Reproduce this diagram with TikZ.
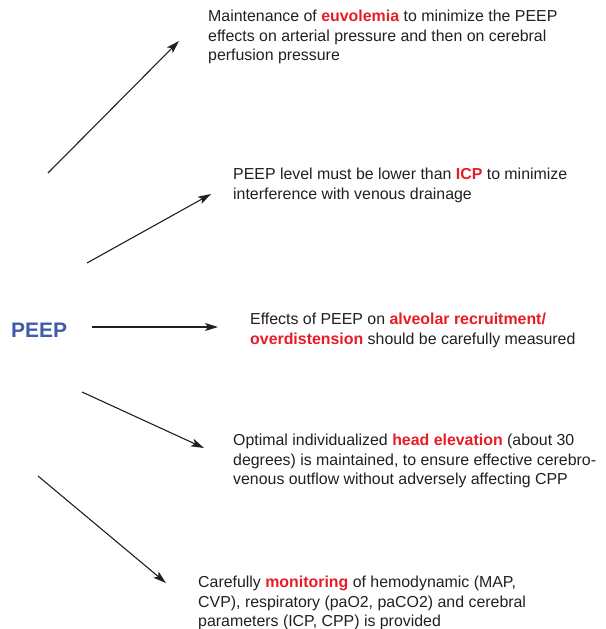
\documentclass[tikz,border=0pt]{standalone}
\usepackage{fontspec}
\setmainfont{Liberation Sans}
\usetikzlibrary{arrows.meta}
\definecolor{txt}{RGB}{35,31,32}
\definecolor{hl}{RGB}{232,28,36}
\definecolor{peepblue}{RGB}{66,90,170}
\newcommand{\hot}[1]{\textcolor{hl}{\textbf{#1}}}
\tikzset{
  note/.style={anchor=north west, align=left, inner sep=0pt, text=txt,
    font=\fontsize{15.9}{19.3}\selectfont},
  link/.style={line width=1.1pt, draw=txt, -{Stealth[length=13pt,width=8pt,inset=3pt]}}
}
\begin{document}
\begin{tikzpicture}[x=1pt,y=-1pt]
\useasboundingbox (0,0) rectangle (605,629);
% central term
\node[anchor=west, inner sep=0pt, text=peepblue, font=\fontsize{21}{24}\selectfont\bfseries] (peep) at (11,330) {PEEP};
% statements
\node[note] (n1) at (208,10) {Maintenance of \hot{euvolemia} to minimize the PEEP\\effects on arterial pressure and then on cerebral\\perfusion pressure};
\node[note] (n2) at (233,168) {PEEP level must be lower than \hot{ICP} to minimize\\interference with venous drainage};
\node[note] (n3) at (250,313) {Effects of PEEP on \hot{alveolar recruitment/}\\\hot{overdistension} should be carefully measured};
\node[note] (n4) at (233,434) {Optimal individualized \hot{head elevation} (about 30\\degrees) is maintained, to ensure effective cerebro-\\venous outflow without adversely affecting CPP};
\node[note] (n5) at (198,576) {Carefully \hot{monitoring} of hemodynamic (MAP,\\CVP), respiratory (paO2, paCO2) and cerebral\\parameters (ICP, CPP) is provided};
% arrow ends
\coordinate (s1) at (48,173);  \coordinate (e1) at (179,41);
\coordinate (s2) at (87,263);  \coordinate (e2) at (211,194);
\coordinate (s3) at (92,327);  \coordinate (e3) at (218,327);
\coordinate (s4) at (82,392);  \coordinate (e4) at (204,448);
\coordinate (s5) at (38,476);  \coordinate (e5) at (166,583);
\foreach \i in {1,...,5} \draw[link] (s\i) -- (e\i);
\end{tikzpicture}
\end{document}
